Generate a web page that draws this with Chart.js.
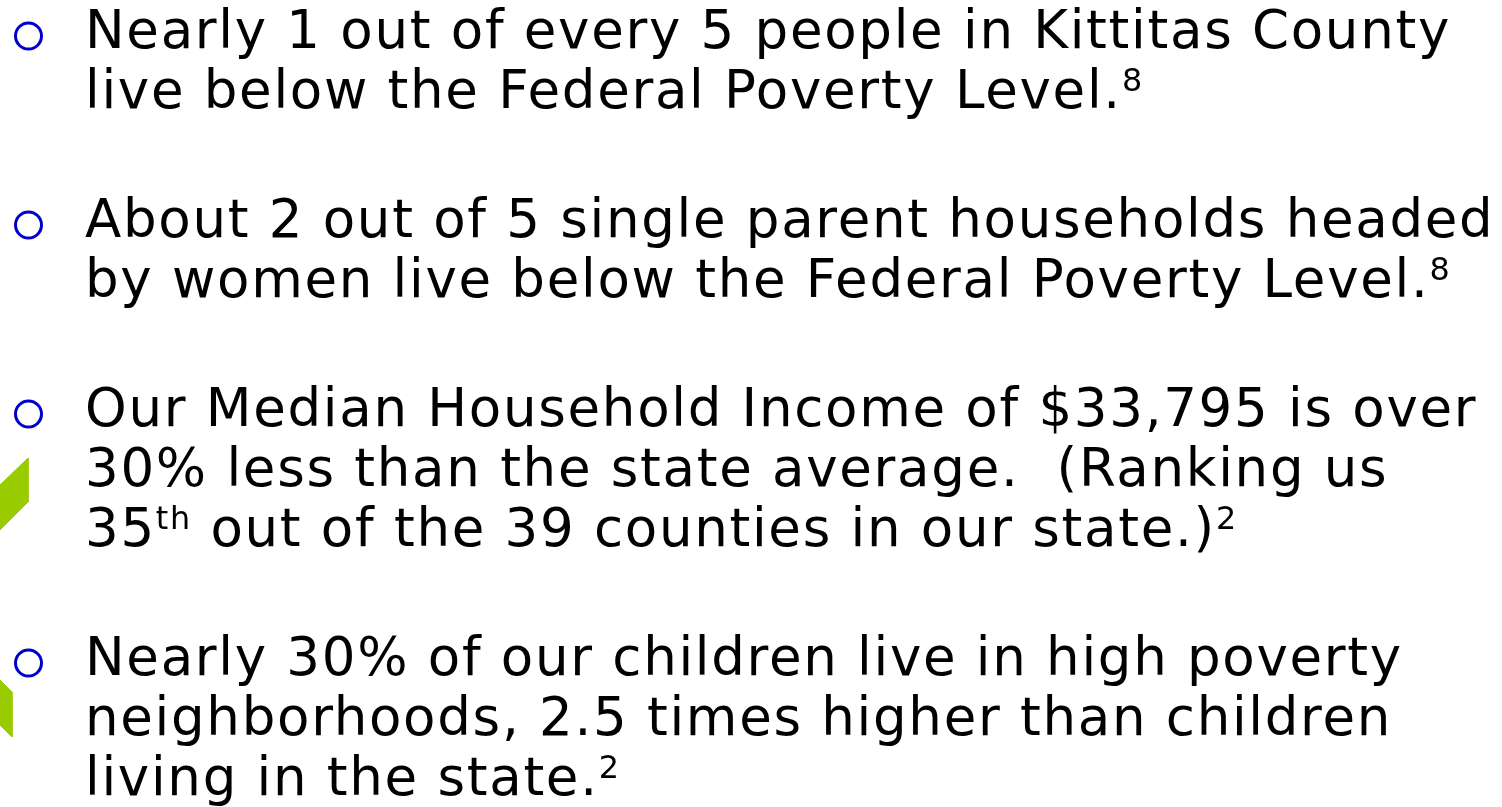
<!DOCTYPE html>
<html>
<head>
    <title>Kittitas County poverty facts</title>
    <script src="https://cdn.jsdelivr.net/npm/chart.js"></script>
    <style>
        html, body {
            margin: 0;
            padding: 0;
            width: 1502px;
            height: 807px;
            overflow: hidden;
            background-color: #ffffff;
        }
        #deco {
            position: absolute;
            left: 0;
            top: 0;
            width: 1502px;
            height: 807px;
        }
        #text {
            position: absolute;
            left: 85px;
            top: 0px;
            font-family: "DejaVu Sans", sans-serif;
            font-size: 53px;
            letter-spacing: 1.7px;
            line-height: 60px;
            color: #000;
            white-space: nowrap;
        }
        #text p {
            margin: 0 0 69px 0;
        }
        #text sup {
            font-size: 0.6em;
            line-height: 0;
            vertical-align: 0.53em;
        }
    </style>
</head>
<body>
    <canvas id="deco" width="1502" height="807"></canvas>
    <div id="text"></div>

    <script>
        // Bullet texts, one array per bullet, one entry per line
        const bullet1 = [
            "Nearly 1 out of every 5 people in Kittitas County",
            "live below the Federal Poverty Level.<sup>8</sup>"
        ];
        const bullet2 = [
            "About 2 out of 5 single parent households headed",
            "by women live below the Federal Poverty Level.<sup>8</sup>"
        ];
        const bullet3 = [
            "Our Median Household Income of $33,795 is over",
            "30% less than the state average.&nbsp; (Ranking us",
            "35<sup>th</sup> out of the 39 counties in our state.)<sup>2</sup>"
        ];
        const bullet4 = [
            "Nearly 30% of our children live in high poverty",
            "neighborhoods, 2.5 times higher than children",
            "living in the state.<sup>2</sup>"
        ];
        const bullets = [bullet1, bullet2, bullet3, bullet4];

        // green corner shapes of the slide template (page pixels)
        const shapeTop = [{x: 28, y: 458}, {x: 28, y: 502}, {x: 0, y: 530}, {x: 0, y: 485}, {x: 28, y: 458}];
        const shapeLow = [{x: 0, y: 680}, {x: 12, y: 692}, {x: 12, y: 737}, {x: 0, y: 725}, {x: 0, y: 680}];

        // Write the text
        const box = document.getElementById("text");
        bullets.forEach(lines => {
            const p = document.createElement("p");
            p.innerHTML = lines.join("<br>");
            box.appendChild(p);
        });

        // bullet marks go at the middle of each first line
        const marks = [];
        box.querySelectorAll("p").forEach(p => {
            const r = p.getBoundingClientRect();
            marks.push({x: 28.5, y: r.top + 36});
        });

        const ctx = document.getElementById('deco').getContext('2d');
        const deco = new Chart(ctx, {
            type: 'scatter',
            data: {
                datasets: [{
                    data: marks,
                    pointStyle: 'circle',
                    pointRadius: 13,
                    pointBorderWidth: 3,
                    pointBorderColor: '#0000cc',
                    pointBackgroundColor: 'rgba(0,0,0,0)',
                    showLine: false
                }, {
                    data: shapeTop,
                    showLine: true,
                    fill: 'shape',
                    borderWidth: 1,
                    borderColor: '#99cc00',
                    backgroundColor: '#99cc00',
                    pointRadius: 0
                }, {
                    data: shapeLow,
                    showLine: true,
                    fill: 'shape',
                    borderWidth: 1,
                    borderColor: '#99cc00',
                    backgroundColor: '#99cc00',
                    pointRadius: 0
                }]
            },
            options: {
                responsive: false,
                animation: false,
                layout: { padding: 0, autoPadding: false },
                plugins: { legend: { display: false }, tooltip: { enabled: false } },
                scales: {
                    x: { type: 'linear', min: 0, max: 1502, display: false },
                    y: { type: 'linear', min: 0, max: 807, reverse: true, display: false }
                }
            }
        });
    </script>
</body>
</html>
